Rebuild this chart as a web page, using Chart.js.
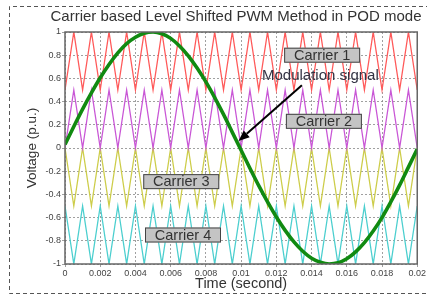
<!DOCTYPE html>
<html>
<head>
<meta charset="utf-8">
<script src="https://cdn.jsdelivr.net/npm/chart.js@4.4.1/dist/chart.umd.min.js"></script>
<style>
  html, body { margin: 0; padding: 0; background: #ffffff; }
  #wrap { width: 427px; height: 297px; position: relative; }
</style>
</head>
<body>
<div id="wrap"><canvas id="c" width="427" height="297"></canvas></div>
<script>
// ---- Data ----
const titleText = "Carrier based Level Shifted PWM Method in POD mode";
const xAxisTitle = "Time (second)";
const yAxisTitle = "Voltage (p.u.)";

// time samples (s), every 0.5 ms, 0 .. 0.02
const times = [0,0.0005,0.001,0.0015,0.002,0.0025,0.003,0.0035,0.004,0.0045,0.005,0.0055,0.006,0.0065,0.007,0.0075,0.008,0.0085,0.009,0.0095,0.01,0.0105,0.011,0.0115,0.012,0.0125,0.013,0.0135,0.014,0.0145,0.015,0.0155,0.016,0.0165,0.017,0.0175,0.018,0.0185,0.019,0.0195,0.02];

const carrier1 = [0.5,1,0.5,1,0.5,1,0.5,1,0.5,1,0.5,1,0.5,1,0.5,1,0.5,1,0.5,1,0.5,1,0.5,1,0.5,1,0.5,1,0.5,1,0.5,1,0.5,1,0.5,1,0.5,1,0.5,1,0.5];
const carrier2 = [0,0.5,0,0.5,0,0.5,0,0.5,0,0.5,0,0.5,0,0.5,0,0.5,0,0.5,0,0.5,0,0.5,0,0.5,0,0.5,0,0.5,0,0.5,0,0.5,0,0.5,0,0.5,0,0.5,0,0.5,0];
const carrier3 = [0,-0.5,0,-0.5,0,-0.5,0,-0.5,0,-0.5,0,-0.5,0,-0.5,0,-0.5,0,-0.5,0,-0.5,0,-0.5,0,-0.5,0,-0.5,0,-0.5,0,-0.5,0,-0.5,0,-0.5,0,-0.5,0,-0.5,0,-0.5,0];
const carrier4 = [-0.5,-1,-0.5,-1,-0.5,-1,-0.5,-1,-0.5,-1,-0.5,-1,-0.5,-1,-0.5,-1,-0.5,-1,-0.5,-1,-0.5,-1,-0.5,-1,-0.5,-1,-0.5,-1,-0.5,-1,-0.5,-1,-0.5,-1,-0.5,-1,-0.5,-1,-0.5,-1,-0.5];
const modulation = [0.03,0.185,0.335,0.475,0.605,0.72,0.82,0.9,0.955,0.99,1,0.985,0.945,0.88,0.795,0.69,0.57,0.435,0.29,0.135,-0.02,-0.175,-0.325,-0.465,-0.595,-0.71,-0.81,-0.89,-0.95,-0.985,-1,-0.99,-0.955,-0.895,-0.815,-0.715,-0.6,-0.465,-0.32,-0.165,-0.01];

const xTickValues = [0,0.002,0.004,0.006,0.008,0.01,0.012,0.014,0.016,0.018,0.02];
const xTickLabels = ["0","0.002","0.004","0.006","0.008","0.01","0.012","0.014","0.016","0.018","0.02"];
const yTickValues = [-1,-0.8,-0.6,-0.4,-0.2,0,0.2,0.4,0.6,0.8,1];
const yTickLabels = ["-1","-0.8","-0.6","-0.4","-0.2","0","0.2","0.4","0.6","0.8","1"];

const seriesNames = ["Carrier 1","Carrier 2","Carrier 3","Carrier 4","Modulation signal"];
const seriesColors = ["#ff5a5a","#c957d6","#cdcd4a","#4ccfcf","#118a11"];

// annotation label positions (data coords)
const labelBoxes = [
  {text: "Carrier 1", x: 0.0146, y: 0.80},
  {text: "Carrier 2", x: 0.0147, y: 0.23},
  {text: "Carrier 3", x: 0.0066, y: -0.29},
  {text: "Carrier 4", x: 0.0067, y: -0.75}
];
const modLabel = {text: "Modulation signal", x: 0.0145, y: 0.62};
const arrowFrom = {x: 0.01345, y: 0.54};
const arrowTo = {x: 0.00985, y: 0.06};

// ---- Build ----
function pts(vals) { return times.map((t, i) => ({x: t, y: vals[i]})); }

const datasets = [carrier1, carrier2, carrier3, carrier4].map((v, i) => ({
  label: seriesNames[i],
  data: pts(v),
  borderColor: seriesColors[i],
  borderWidth: 1.3,
  pointRadius: 0,
  tension: 0,
  order: 2
}));
datasets.push({
  label: seriesNames[4],
  data: pts(modulation),
  borderColor: seriesColors[4],
  borderWidth: 3.6,
  pointRadius: 0,
  cubicInterpolationMode: 'monotone',
  order: 1
});

const FONT = '"Liberation Sans", Arial, sans-serif';

const decor = {
  id: 'decor',
  beforeDraw(chart) {
    const ctx = chart.ctx;
    ctx.save();
    ctx.fillStyle = '#ffffff';
    ctx.fillRect(0, 0, chart.width, chart.height);
    // outer dashed frame
    ctx.strokeStyle = '#555';
    ctx.lineWidth = 1;
    ctx.setLineDash([4, 3]);
    ctx.beginPath();
    ctx.moveTo(430, 6.5); ctx.lineTo(9.5, 6.5); ctx.lineTo(9.5, 293.5); ctx.lineTo(430, 293.5);
    ctx.stroke();
    ctx.setLineDash([]);
    // title
    ctx.fillStyle = '#333';
    ctx.font = '15px ' + FONT;
    ctx.textAlign = 'center';
    ctx.textBaseline = 'middle';
    ctx.fillText(titleText, 236, 17);
    ctx.restore();
  },
  afterDatasetsDraw(chart) {
    const ctx = chart.ctx;
    const xs = chart.scales.x, ys = chart.scales.y;
    const a = chart.chartArea;
    ctx.save();
    // plot frame
    ctx.strokeStyle = '#666';
    ctx.lineWidth = 1.5;
    ctx.strokeRect(a.left, a.top, a.right - a.left, a.bottom - a.top);
    ctx.font = '14.5px ' + FONT;
    ctx.textAlign = 'center';
    ctx.textBaseline = 'middle';
    labelBoxes.forEach(b => {
      const cx = xs.getPixelForValue(b.x), cy = ys.getPixelForValue(b.y);
      const w = 76, h = 15;
      ctx.fillStyle = '#c4c4c4';
      ctx.fillRect(cx - w / 2, cy - h / 2, w, h);
      ctx.strokeStyle = '#444';
      ctx.lineWidth = 1;
      ctx.strokeRect(cx - w / 2 + 0.5, cy - h / 2 + 0.5, w - 1, h - 1);
      ctx.fillStyle = '#333';
      ctx.fillText(b.text, cx, cy + 0.5);
    });
    // modulation label
    ctx.font = '15px ' + FONT;
    ctx.fillStyle = '#334';
    ctx.fillText(modLabel.text, xs.getPixelForValue(modLabel.x), ys.getPixelForValue(modLabel.y));
    // arrow
    const x1 = xs.getPixelForValue(arrowFrom.x), y1 = ys.getPixelForValue(arrowFrom.y);
    const x2 = xs.getPixelForValue(arrowTo.x), y2 = ys.getPixelForValue(arrowTo.y);
    const ang = Math.atan2(y2 - y1, x2 - x1);
    const hl = 11, hw = 4.5;
    const bx = x2 - hl * Math.cos(ang), by = y2 - hl * Math.sin(ang);
    ctx.strokeStyle = '#000';
    ctx.lineWidth = 2;
    ctx.beginPath(); ctx.moveTo(x1, y1); ctx.lineTo(bx, by); ctx.stroke();
    ctx.fillStyle = '#000';
    ctx.beginPath();
    ctx.moveTo(x2, y2);
    ctx.lineTo(bx + hw * Math.sin(ang), by - hw * Math.cos(ang));
    ctx.lineTo(bx - hw * Math.sin(ang), by + hw * Math.cos(ang));
    ctx.closePath(); ctx.fill();
    ctx.restore();
  }
};

new Chart(document.getElementById('c'), {
  type: 'line',
  data: { datasets },
  options: {
    responsive: false,
    animation: false,
    layout: { padding: { top: 32, right: 8, left: 0, bottom: 0 } },
    plugins: { legend: { display: false }, title: { display: false }, tooltip: { enabled: false } },
    scales: {
      x: {
        type: 'linear', min: 0, max: 0.02,
        afterBuildTicks: s => { s.ticks = xTickValues.map(v => ({value: v})); },
        afterFit: s => { s.height = 33; },
        ticks: {
          autoSkip: false, maxRotation: 0, padding: 1,
          color: '#444', font: { size: 9, family: FONT },
          callback: (v, i) => xTickLabels[i]
        },
        grid: { color: '#888', lineWidth: 0.8, tickLength: 3, drawTicks: true },
        border: { display: false, dash: [2, 2] },
        title: { display: true, text: xAxisTitle, color: '#333', padding: { top: 2, bottom: 4 },
                 font: { size: 14.5, family: FONT } }
      },
      y: {
        type: 'linear', min: -1, max: 1,
        afterBuildTicks: s => { s.ticks = yTickValues.map(v => ({value: v})); },
        afterFit: s => { s.width = 65; },
        ticks: {
          autoSkip: false, padding: 1,
          color: '#444', font: { size: 9, family: FONT },
          callback: (v, i) => yTickLabels[i]
        },
        grid: { color: '#888', lineWidth: 0.8, tickLength: 3 },
        border: { display: false, dash: [2, 2] },
        title: { display: true, text: yAxisTitle, color: '#333', padding: { top: 24, bottom: 4 },
                 font: { size: 13.5, family: FONT } }
      }
    }
  },
  plugins: [decor]
});
</script>
</body>
</html>
